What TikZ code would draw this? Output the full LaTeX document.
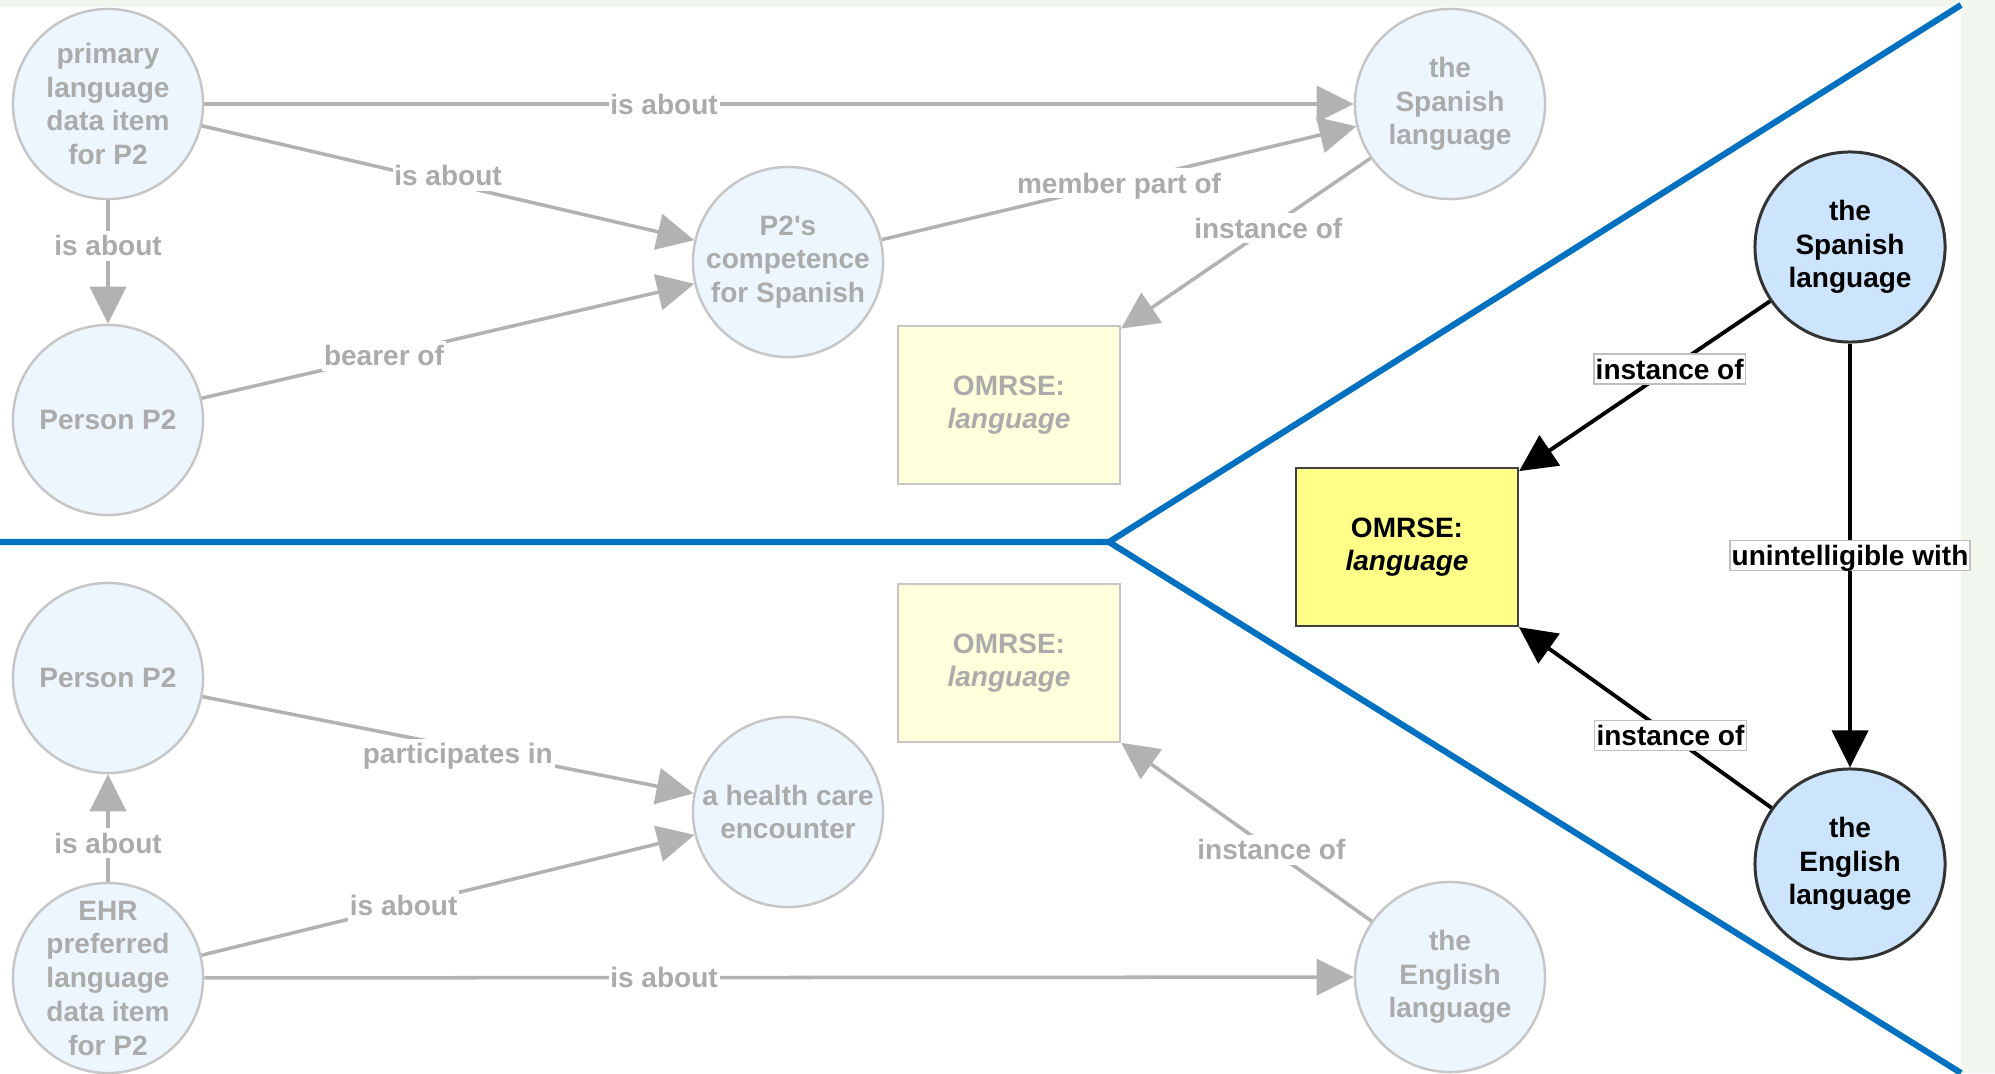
\documentclass[tikz,border=0pt]{standalone}
\usepackage{fontspec}
\setmainfont{Liberation Sans}[Ligatures=TeXOff]
\usepackage{xcolor}
\usetikzlibrary{positioning, arrows.meta}

\definecolor{fadefill}{HTML}{EDF5FE}
\definecolor{fadeline}{HTML}{C6C6C6}
\definecolor{fadetext}{HTML}{ABABAB}
\definecolor{fadeedge}{HTML}{B2B2B2}
\definecolor{fadebox}{HTML}{FFFFDC}
\definecolor{livefill}{HTML}{CCE4FC}
\definecolor{livebox}{HTML}{FFFF88}
\definecolor{splitblue}{HTML}{0070C0}
\definecolor{pagegreen}{HTML}{F1F7EE}

\begin{document}
\begin{tikzpicture}[x=0.01cm, y=-0.01cm, >={Triangle[length=0.37cm, width=0.36cm]},
    every node/.style={font=\fontsize{7.97}{9.6}\selectfont\bfseries, align=center},
    greycirc/.style={circle, draw=fadeline, line width=0.7pt, fill=fadefill, text=fadetext, minimum size=1.9cm, inner sep=-2pt},
    greybox/.style={rectangle, draw=fadeline, line width=0.6pt, fill=fadebox, text=fadetext, minimum width=2.22cm, minimum height=1.58cm},
    greyedge/.style={->, fadeedge, line width=1pt},
    greylbl/.style={fill=white, text=fadetext, inner xsep=0.5pt, inner ysep=0pt, text height=0.25cm, text depth=0.05cm},
    bluecirc/.style={circle, draw=black!80, line width=0.85pt, fill=livefill, minimum size=1.9cm, inner sep=-2pt},
    yellowbox/.style={rectangle, draw=black!75, line width=0.6pt, fill=livebox, minimum width=2.22cm, minimum height=1.58cm},
    blackedge/.style={->, black, line width=1.1pt},
    blacklbl/.style={fill=white, draw=black!25, line width=0.4pt, inner xsep=0.5pt, inner ysep=0pt, text height=0.25cm, text depth=0.05cm}]

\useasboundingbox (0,0) rectangle (1995,1073);
\fill[pagegreen] (0,0) rectangle (1995,1073);
\fill[white] (0,7) rectangle (1961,1073);

% Split lines
\coordinate (fork) at (1109,542);
\draw[splitblue, line width=1.75pt] (0,542) -- (fork) -- (1961,5);
\draw[splitblue, line width=1.75pt] (fork) -- (1961,1073);

% Upper graph
\node[greycirc] (datumA) at (108,104) {primary\\language\\data item\\for P2};
\node[greycirc] (personA) at (108,420) {Person P2};
\node[greycirc] (compet) at (788,262) {P2's\\competence\\for Spanish};
\node[greycirc] (spanishA) at (1450,104) {the\\Spanish\\language};
\node[greybox] (omrseA) at (1009,405) {OMRSE:\\\textit{language}};

\draw[greyedge] (datumA) -- (spanishA) node[greylbl, pos=0.40] {is about};
\draw[greyedge] (datumA) -- (compet) node[greylbl, pos=0.5, yshift=2pt] {is about};
\draw[greyedge] (datumA) -- (personA) node[greylbl, pos=0.37] {is about};
\draw[greyedge] (personA) -- (compet) node[greylbl, pos=0.37] {bearer of};
\draw[greyedge] (compet) -- (spanishA) node[greylbl, pos=0.5] {member part of};
\draw[greyedge] (spanishA) -- (omrseA) node[greylbl, pos=0.41] {instance of};

% Lower graph
\node[greycirc] (personB) at (108,678) {Person P2};
\node[greycirc] (ehr) at (108,978) {EHR\\preferred\\language\\data item\\for P2};
\node[greycirc] (encounter) at (788,812) {a health care\\encounter};
\node[greybox] (omrseB) at (1009,663) {OMRSE:\\\textit{language}};
\node[greycirc] (englishB) at (1450,977) {the\\English\\language};

\draw[greyedge] (ehr) -- (personB) node[greylbl, pos=0.36] {is about};
\draw[greyedge] (personB) -- (encounter) node[greylbl, pos=0.52, yshift=-2pt] {participates in};
\draw[greyedge] (ehr) -- (encounter) node[greylbl, pos=0.41] {is about};
\draw[greyedge] (ehr) -- (englishB) node[greylbl, pos=0.40] {is about};
\draw[greyedge] (englishB) -- (omrseB) node[greylbl, pos=0.40] {instance of};

% Right-hand graph
\node[yellowbox] (omrse) at (1407,547) {OMRSE:\\\textit{language}};
\node[bluecirc] (spanish) at (1850,247) {the\\Spanish\\language};
\node[bluecirc] (english) at (1850,864) {the\\English\\language};

\draw[blackedge] (spanish) -- (omrse) node[blacklbl, pos=0.40] {instance of};
\draw[blackedge] (english) -- (omrse) node[blacklbl, pos=0.40] {instance of};
\draw[blackedge] (spanish) -- (english) node[blacklbl, pos=0.5] {unintelligible with};

\end{tikzpicture}
\end{document}
